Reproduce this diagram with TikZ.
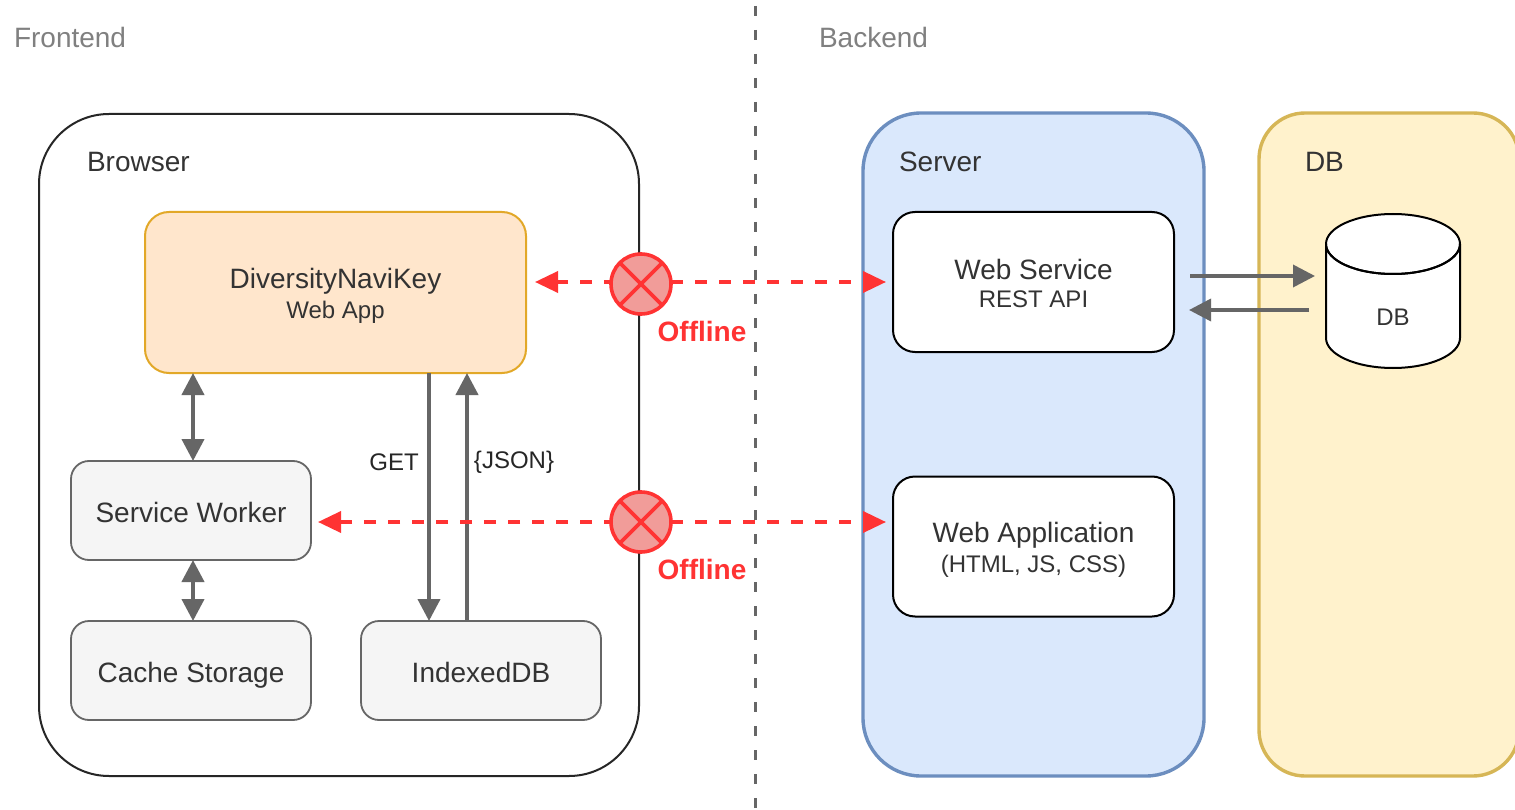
\documentclass[tikz,border=0pt]{standalone}
\usepackage{fontspec}
\setmainfont{Liberation Sans}
\usetikzlibrary{arrows.meta}
\definecolor{txtdark}{HTML}{333333}
\definecolor{midgray}{HTML}{666666}
\definecolor{offred}{HTML}{FF3333}
\definecolor{crossfill}{HTML}{F19C99}
\definecolor{serverline}{HTML}{6C8EBF}
\definecolor{serverfill}{HTML}{DAE8FC}
\definecolor{dbline}{HTML}{D6B656}
\definecolor{dbfill}{HTML}{FFF2CC}
\definecolor{appline}{HTML}{E2A828}
\definecolor{appfill}{HTML}{FFE6CC}
\newcommand{\bigf}{\fontsize{28}{30}\selectfont}
\newcommand{\smallf}{\fontsize{24}{27}\selectfont}
\tikzset{
  every node/.style={inner sep=0pt,outer sep=0pt,text=txtdark},
  whitebox/.style={draw=black,fill=white,line width=2pt,rounded corners=22pt,minimum width=281pt,minimum height=140pt},
  graybox/.style={draw=midgray,fill=black!4,line width=1.8pt,rounded corners=18pt,minimum width=240pt,minimum height=99pt,font=\bigf,text height=30pt,text depth=7pt},
  biglabel/.style={anchor=west,font=\bigf},
  tinylabel/.style={font=\smallf,text=black!85},
  grayarrow/.style={draw=midgray,line width=4pt,{Triangle[length=22pt,width=22pt]}-{Triangle[length=22pt,width=22pt]}},
  oneway/.style={draw=midgray,line width=4pt,-{Triangle[length=22pt,width=22pt]}},
  offline/.style={draw=offred,line width=3.6pt,dash pattern=on 12pt off 12pt,-{Triangle[length=23pt,width=21pt,fill=offred,sep=0pt]}},
  blocker/.style={circle,draw=offred,fill=crossfill,line width=3.6pt,minimum size=60pt,
    path picture={\draw[offred,line width=3.6pt]
      (path picture bounding box.north west)--(path picture bounding box.south east)
      (path picture bounding box.north east)--(path picture bounding box.south west);}},
  offlabel/.style={font=\bigf\bfseries,text=offred},
}
\newcommand{\twolines}[2]{\begin{tabular}{@{}c@{}}\bigf\rule{0pt}{27pt}#1\\[0pt]\smallf\rule{0pt}{24pt}#2\end{tabular}}
\begin{document}
\begin{tikzpicture}[x=1pt,y=-1pt]
\useasboundingbox (0,0) rectangle (1515,810);
\clip (0,0) rectangle (1515,810);
\fill[white] (0,0) rectangle (1515,810);
% containers
\node[draw=black!85,line width=2pt,fill=white,rounded corners=70pt,minimum width=600pt,minimum height=662pt] (browser) at (339,445) {};
\node[draw=serverline,fill=serverfill,line width=3.4pt,rounded corners=58pt,minimum width=341pt,minimum height=663pt] (server) at (1033.5,444.5) {};
\node[draw=dbline,fill=dbfill,line width=3.4pt,rounded corners=46pt,minimum width=260pt,minimum height=663pt] (dbarea) at (1389,444.5) {};
% divider
\coordinate (divtop) at (755.5,0);
\coordinate (divbot) at (755.5,810);
\draw[midgray,line width=3pt,dash pattern=on 10pt off 14pt,dash phase=-6pt] (divtop) -- (divbot);
% headings
\node[biglabel,text=black!50] (fe) at (14,37) {Frontend};
\node[biglabel,text=black!50] (be) at (819,37) {Backend};
\node[biglabel] (brl) at (87,162) {Browser};
\node[biglabel] (srl) at (899,162) {Server};
\node[biglabel] (dbl) at (1305,162) {DB};
% inner boxes
\node[draw=appline,fill=appfill,line width=2pt,rounded corners=24pt,minimum width=381pt,minimum height=161pt] (app) at (335.5,292.5) {\twolines{DiversityNaviKey}{Web App}};
\node[graybox] (sw) at (191,510.5) {Service Worker};
\node[graybox] (cache) at (191,670.5) {Cache Storage};
\node[graybox] (idb) at (481,670.5) {IndexedDB};
\node[whitebox] (ws) at (1033.5,282) {\twolines{Web Service}{REST API}};
\node[whitebox] (wa) at (1033.5,546.5) {\twolines{Web Application}{(HTML, JS, CSS)}};
% cylinder
\draw[black,fill=white,line width=2pt] (1326,244) -- (1326,338) arc[start angle=180,end angle=360,x radius=67pt,y radius=30pt] -- (1460,244) arc[start angle=0,end angle=360,x radius=67pt,y radius=30pt];
\draw[black,line width=2pt] (1326,244) arc[start angle=180,end angle=360,x radius=67pt,y radius=30pt];
\node[minimum width=134pt,minimum height=154pt,font=\smallf] (dbc) at (1393,291) {\raisebox{-34pt}[0pt][0pt]{DB}};
% connectors
\draw[grayarrow] ([xshift=-142.5pt]app.south) -- ([xshift=2pt]sw.north);
\draw[grayarrow] ([xshift=2pt]sw.south) -- ([xshift=2pt]cache.north);
\coordinate (getbot) at ([xshift=-52pt]idb.north);
\coordinate (jsonbot) at ([xshift=-14pt]idb.north);
\draw[oneway] (getbot |- app.south) -- (getbot);
\draw[oneway] (jsonbot) -- (jsonbot |- app.south);
\node[tinylabel] (get) at (394,462) {GET};
\node[tinylabel] (json) at (514,462) {\{JSON\}};
\draw[oneway,line width=3.6pt] ([xshift=16pt,yshift=6pt]ws.east) -- ([xshift=-11pt,yshift=15pt]dbc.west);
\draw[oneway,line width=3.6pt] ([xshift=-17pt,yshift=-19pt]dbc.west) -- ([xshift=15pt,yshift=-28pt]ws.east);
% offline markers
\coordinate (lineone) at (640,282);
\coordinate (linetwo) at (640,522);
\draw[offline] (lineone) -- ([xshift=9pt]lineone -| app.east);
\node[blocker] (xa) at (641,284) {};
\draw[offline] (xa.east |- lineone) -- ([xshift=-7pt]lineone -| ws.west);
\draw[offline] (linetwo) -- ([xshift=7pt]linetwo -| sw.east);
\node[blocker] (xb) at (641,522) {};
\draw[offline] (xb.east) -- ([xshift=-7pt]xb.east -| wa.west);
\node[offlabel] (ofa) at (702,331) {Offline};
\node[offlabel] (ofb) at (702,569) {Offline};
\end{tikzpicture}
\end{document}
